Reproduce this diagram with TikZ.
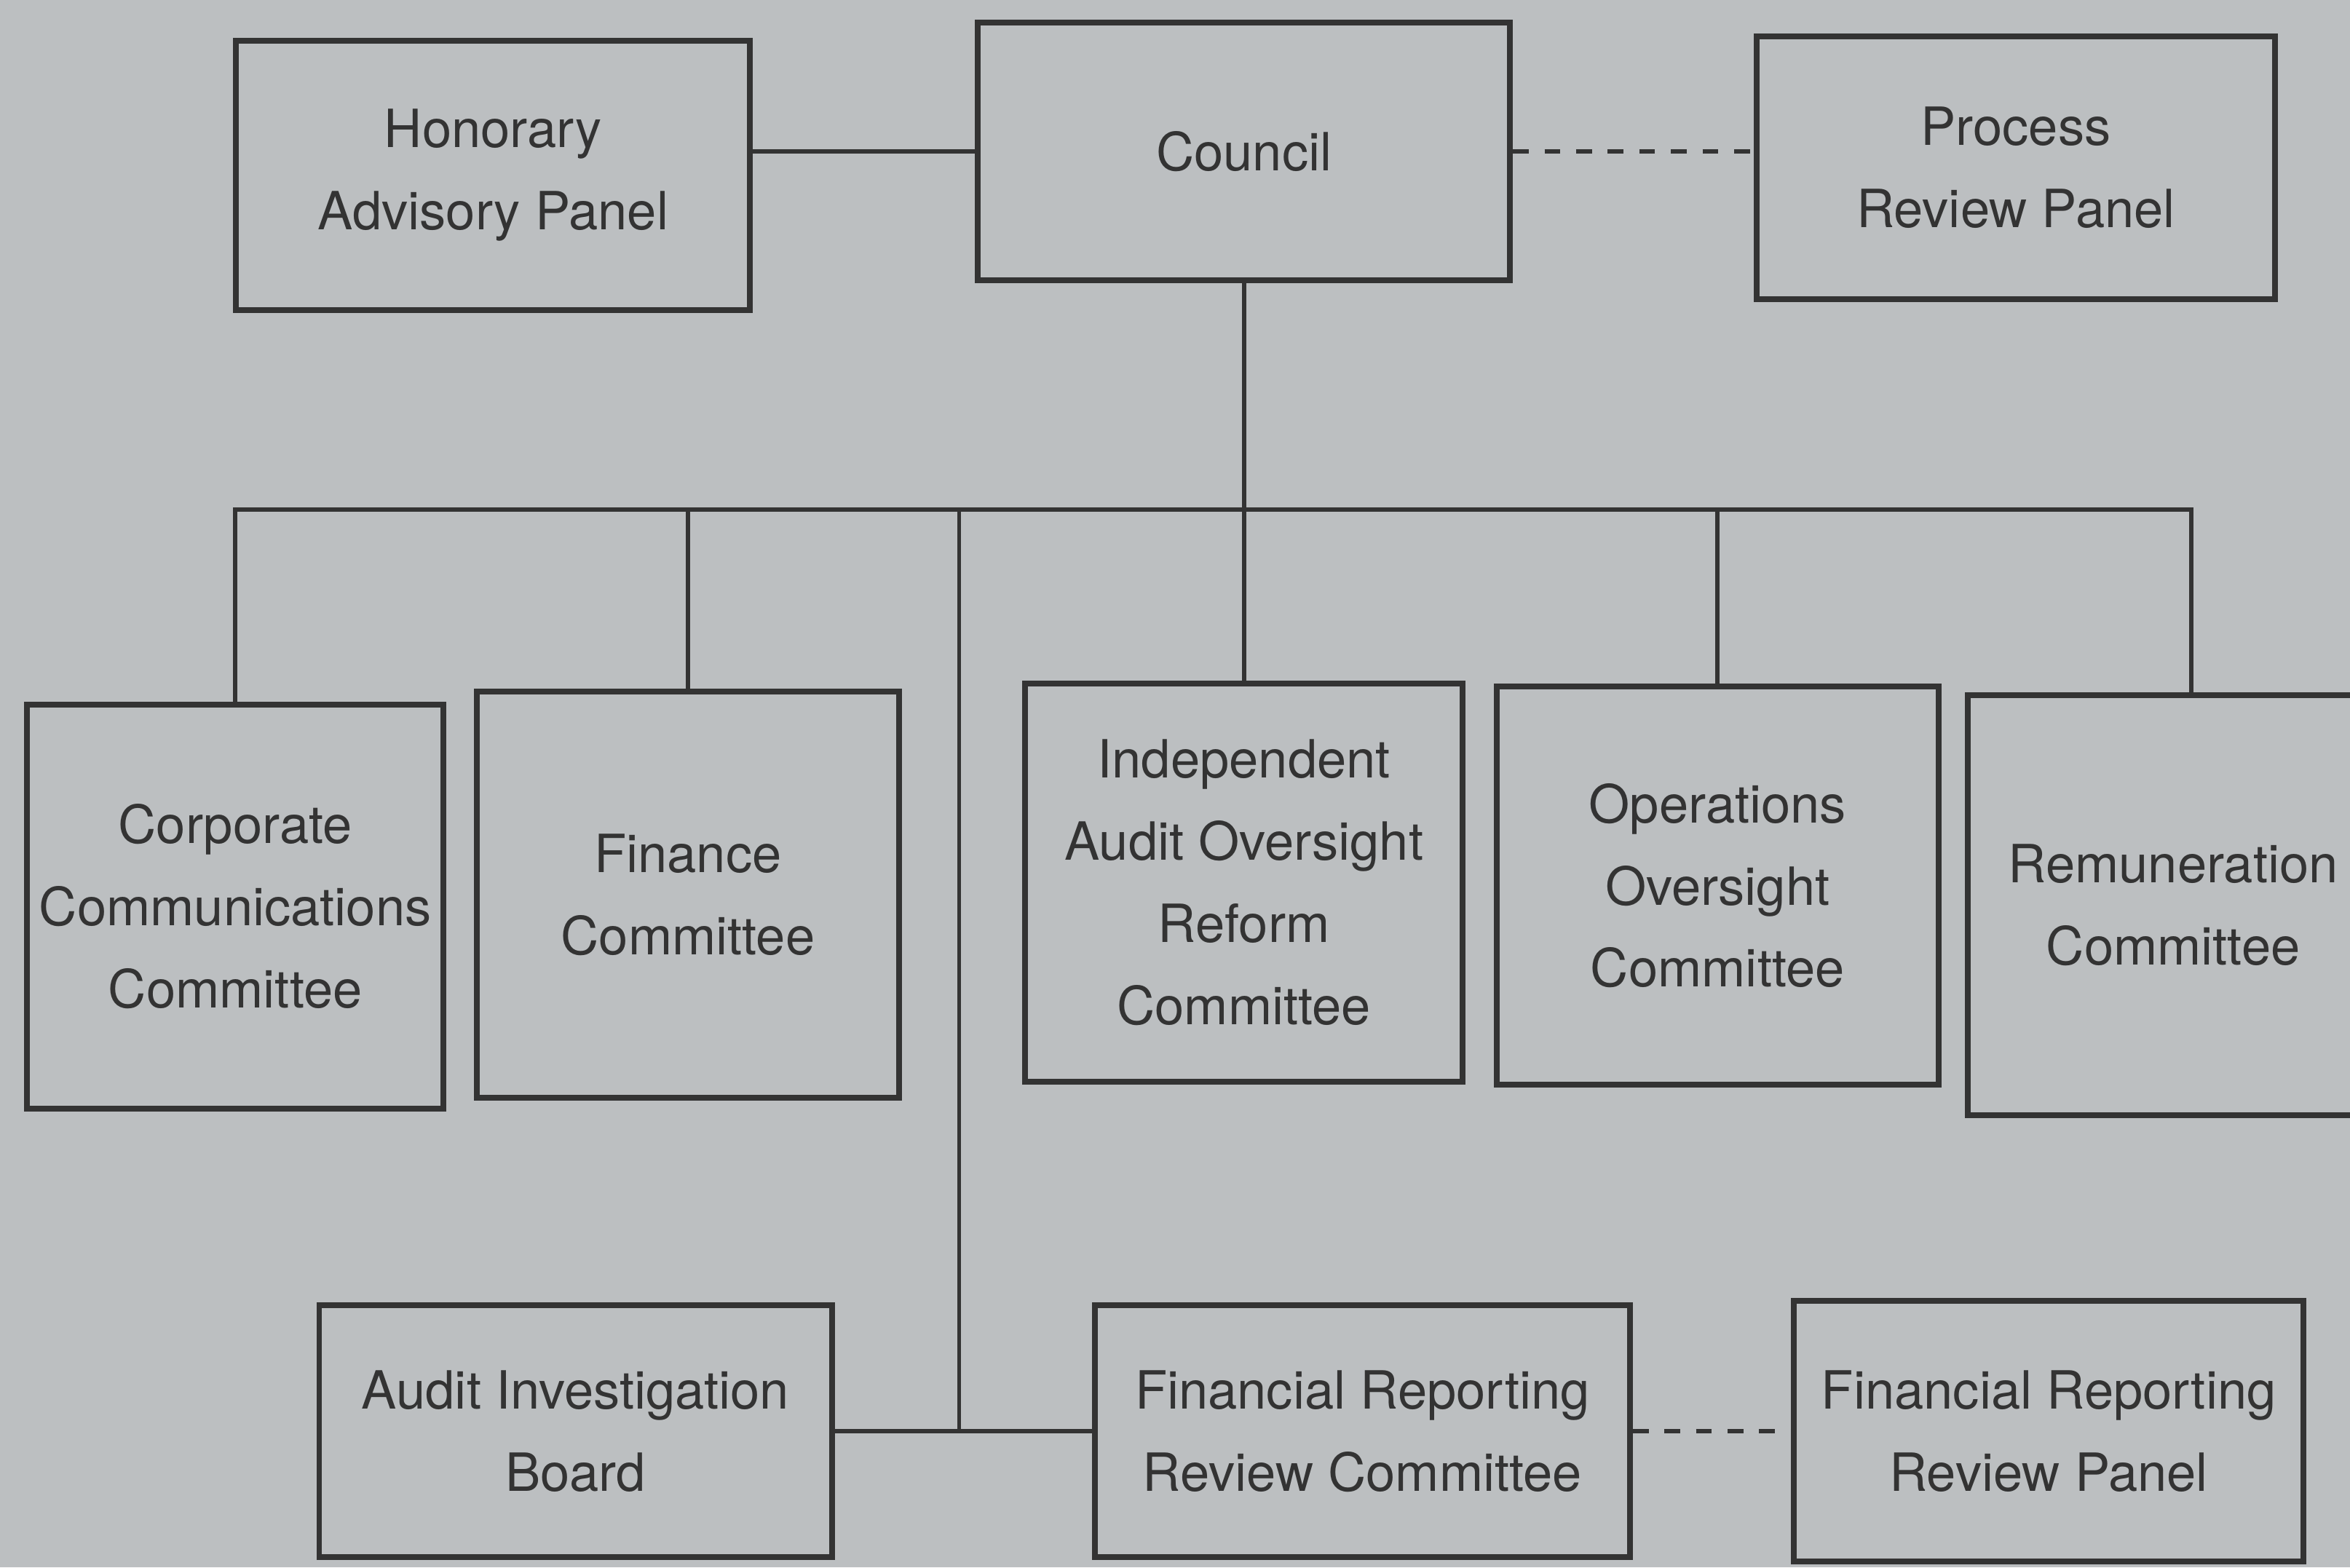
\documentclass[tikz,border=0pt]{standalone}
\usepackage{fontspec}
\setmainfont{TeX Gyre Heros}
\definecolor{paper}{HTML}{BCBFC1}
\definecolor{ink}{HTML}{333333}
\begin{document}
\begin{tikzpicture}[
  box/.style={draw=ink, line width=1.1pt, fill=paper, text=ink, align=center,
    inner sep=0pt, font=\fontsize{10}{15.6}\selectfont},
  link/.style={draw=ink, line width=0.8pt}]
\fill[paper] (0,0) rectangle (15.68,10.46);
\useasboundingbox (0,0) rectangle (15.68,10.46);
% top row
\node[box, minimum width=3.43cm, minimum height=1.80cm] (hon) at (3.29,9.29) {Honorary\\Advisory Panel};
\node[box, minimum width=3.55cm, minimum height=1.72cm] (council) at (8.30,9.45) {Council};
\node[box, minimum width=3.46cm, minimum height=1.75cm] (prp) at (13.45,9.34) {Process\\Review Panel};
% committees
\node[box, minimum width=2.78cm, minimum height=2.70cm] (corp) at (1.57,4.41) {Corporate\\Communications\\Committee};
\node[box, minimum width=2.82cm, minimum height=2.71cm] (fin) at (4.59,4.49) {Finance\\Committee};
\node[box, minimum width=2.92cm, minimum height=2.66cm] (iaorc) at (8.30,4.57) {Independent\\Audit Oversight\\Reform\\Committee};
\node[box, minimum width=2.95cm, minimum height=2.66cm] (ops) at (11.46,4.55) {Operations\\Oversight\\Committee};
\node[box, minimum width=2.74cm, minimum height=2.80cm] (rem) at (14.50,4.42) {Remuneration\\Committee};
% bottom row
\node[box, minimum width=3.42cm, minimum height=1.68cm] (aib) at (3.84,0.91) {Audit Investigation\\Board};
\node[box, minimum width=3.57cm, minimum height=1.68cm] (frrc) at (9.09,0.91) {Financial Reporting\\Review Committee};
\node[box, minimum width=3.40cm, minimum height=1.74cm] (frrp) at (13.67,0.91) {Financial Reporting\\Review Panel};
% connectors
\coordinate (bus) at (8.30,7.06);
\coordinate (busR) at (14.62,7.06);
\coordinate (trunk) at (6.40,7.06);
\draw[link] (council.west) -- (council.west -| hon.east);
\draw[link, dashed] (council.east) -- (council.east -| prp.west);
\draw[link] (council.south) -- (bus);
\draw[link] (corp.north) |- (bus) -- (busR) -- (busR |- rem.north);
\foreach \n in {fin,iaorc,ops}
  \draw[link] (\n.north) -- (\n.north |- bus);
\draw[link] (trunk) |- (aib.east);
\draw[link] (aib) -- (frrc);
\draw[link, dashed] (frrc) -- (frrp);
\end{tikzpicture}
\end{document}
